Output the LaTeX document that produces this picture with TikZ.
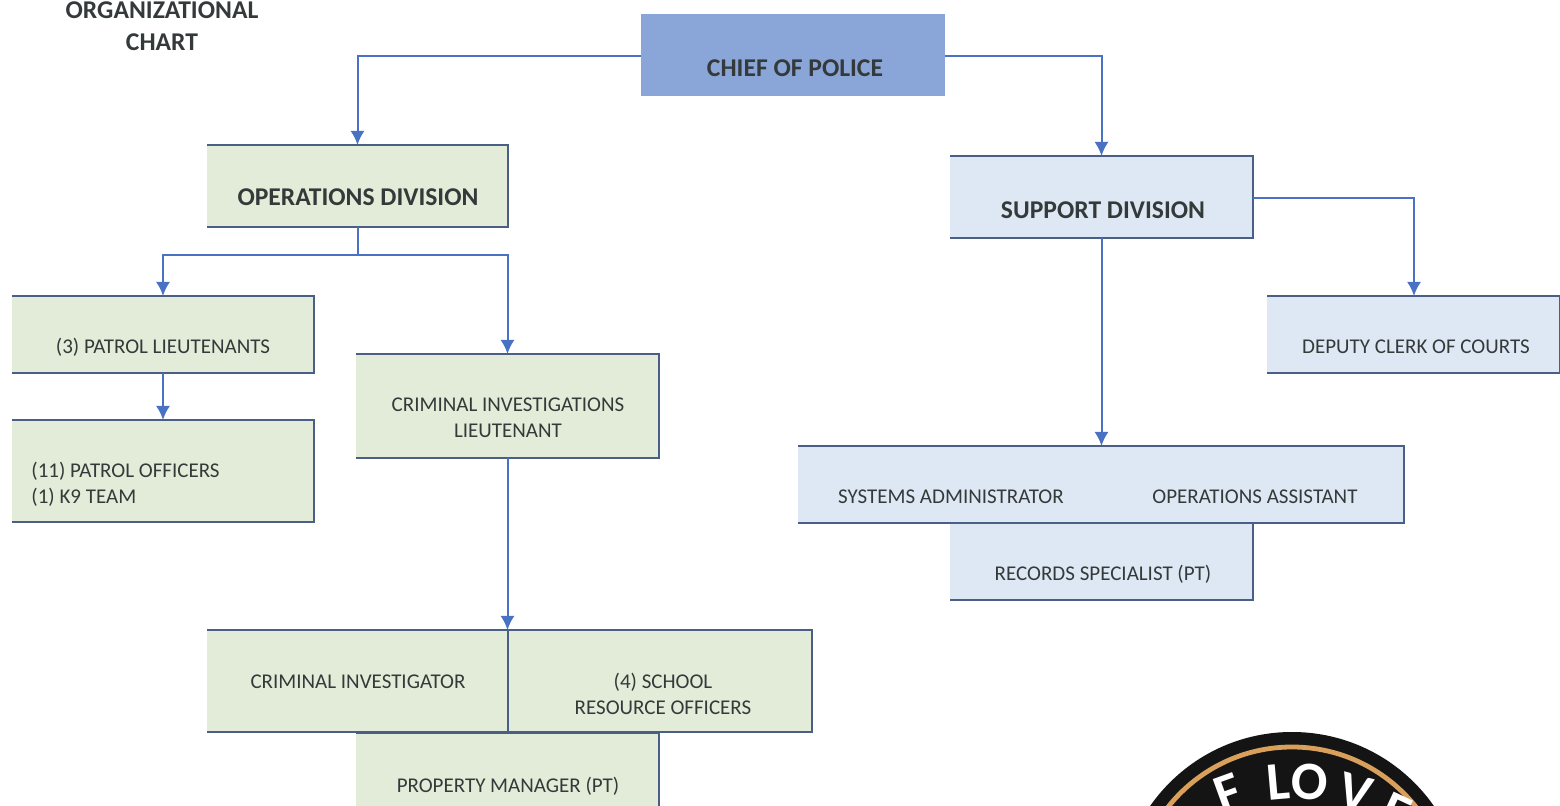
\documentclass[tikz,border=0pt]{standalone}
\usepackage{fontspec}
\setmainfont{Carlito}
\definecolor{gfill}{HTML}{E3ECD9}
\definecolor{bfill}{HTML}{DEE8F4}
\definecolor{chief}{HTML}{8AA6D8}
\definecolor{edge}{HTML}{4A5F85}
\definecolor{conn}{HTML}{4A72C4}
\definecolor{txt}{HTML}{343A3A}
\definecolor{ring}{HTML}{D9A05B}
\tikzset{
 x=0.5pt,y=-0.5pt,
 box/.style={inner sep=0pt,outer sep=0pt,anchor=north west,align=center,text=txt,font=\fontsize{9.2}{12}\selectfont},
 big/.style={font=\bfseries\fontsize{12.8}{14}\selectfont},
 conline/.style={draw=conn,line width=1pt,-{Latex[length=7pt,width=7pt]}},
 plain/.style={draw=conn,line width=1pt},
 outl/.style={draw=edge,line width=0.85pt},
 lbl/.style={inner sep=0pt,text=txt,font=\fontsize{10.5}{13}\selectfont},
 logoL/.style={inner sep=0pt,text=white,font=\bfseries\fontsize{27}{27}\selectfont},
}
\usetikzlibrary{arrows.meta}
\newcommand{\bx}[6]{% name, x, y, w, h, fill
 \node[box,fill=#6,minimum width=#4*0.5pt,minimum height=#5*0.5pt] (#1) at (#2,#3) {};
 \draw[outl] (#1.north west)--(#1.north east)--(#1.south east)--(#1.south west);
}
\begin{document}
\begin{tikzpicture}
\useasboundingbox (0,0) rectangle (1560,806);
\clip (0,0) rectangle (1560,806);
\fill[white] (0,0) rectangle (1560,806);

% logo
\coordinate (lc) at (1292,905);
\fill[black!92] (lc) circle[radius=86.5pt];
\draw[ring,line width=2.4pt] (lc) circle[radius=79pt];
\node[logoL,rotate=33] (lo1) at (1176,828) {O};
\node[logoL,rotate=20] (lo2) at (1228,793) {F};
\node[logoL,rotate=5] (lo3) at (1278,782) {L};
\node[logoL,rotate=-3] (lo4) at (1310,782) {O};
\node[logoL,rotate=-15] (lo5) at (1355,793) {V};
\node[logoL,rotate=-25] (lo6) at (1396,812) {E};

% title
\node[inner sep=0pt,text=txt,font=\bfseries\fontsize{12.8}{16}\selectfont,align=center] (title) at (162,26) {ORGANIZATIONAL\\CHART};

% boxes
\node[box,fill=chief,minimum width=152pt,minimum height=41pt] (chiefb) at (641,14) {};
\bx{ops}{207}{145}{301}{82}{gfill}
\bx{sup}{950}{156}{303}{82}{bfill}
\bx{pat}{12}{296}{302}{77}{gfill}
\bx{off}{12}{420}{302}{102}{gfill}
\bx{inv}{356}{354}{303}{104}{gfill}
\bx{clerk}{1267}{296}{293}{77}{bfill}
\bx{rec}{950}{523}{303}{77}{bfill}
\bx{sys}{798}{446}{606}{77}{bfill}
\bx{prop}{356}{733}{303}{80}{gfill}
\bx{crim}{207}{630}{301}{102}{gfill}
\bx{sro}{508}{630}{304}{102}{gfill}
\draw[outl] (crim.north west)--(crim.north east)--(crim.south east)--(crim.south west);

% connectors
\coordinate (cl) at (641,56);
\coordinate (cr) at (945,56);
\draw[conline] (cl) -| (ops.north);
\draw[conline] (cr) -| (sup.north);
\coordinate (hb) at (0,255);
\coordinate (split) at (ops.south |- hb);
\draw[plain] (ops.south) -- (split);
\draw[conline] (split) -| (pat.north);
\draw[conline] (split) -| (inv.north);
\draw[conline] (pat.south) -- (off.north);
\draw[conline] (inv.south) -- (inv.south |- crim.north);
\coordinate (sr) at (1253,198);
\coordinate (srr) at (1414,296);
\draw[conline] (sr) -| (srr);
\draw[conline] (sup.south) -- (sup.south |- sys.north);

% texts
\node[inner sep=0pt,text=txt,big] (tchief) at (795,68) {CHIEF OF POLICE};
\node[inner sep=0pt,text=txt,big] (tops) at (358,197) {OPERATIONS DIVISION};
\node[inner sep=0pt,text=txt,big] (tsup) at (1103,210) {SUPPORT DIVISION};
\node[lbl] (tpat) at (163,347) {(3) PATROL LIEUTENANTS};
\node[lbl,align=left,anchor=west] (toff) at (31,484) {(11) PATROL OFFICERS\\(1) K9 TEAM};
\node[lbl,align=center] (tinv) at (508,418) {CRIMINAL INVESTIGATIONS\\LIEUTENANT};
\node[lbl] (tclerk) at (1416,347) {DEPUTY CLERK OF COURTS};
\node[lbl] (tsys) at (951,497) {SYSTEMS ADMINISTRATOR};
\node[lbl] (topa) at (1255,497) {OPERATIONS ASSISTANT};
\node[lbl] (trec) at (1103,574) {RECORDS SPECIALIST (PT)};
\node[lbl] (tcrim) at (358,682) {CRIMINAL INVESTIGATOR};
\node[lbl,align=center] (tsro) at (663,694) {(4) SCHOOL\\RESOURCE OFFICERS};
\node[lbl] (tprop) at (508,786) {PROPERTY MANAGER (PT)};
\end{tikzpicture}
\end{document}
